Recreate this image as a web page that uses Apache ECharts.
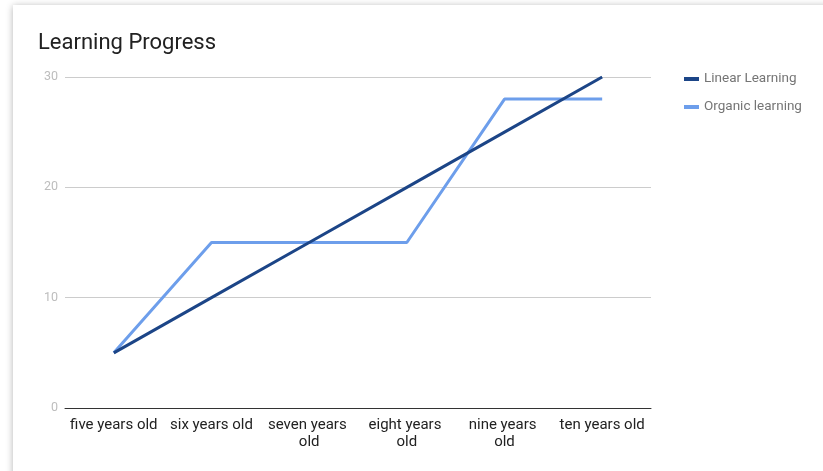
<!DOCTYPE html>
<html>
<head>
<meta charset="utf-8">
<script src="https://cdn.jsdelivr.net/npm/echarts@6/dist/echarts.min.js"></script>
<style>
  html, body { margin: 0; padding: 0; background: #fff; overflow: hidden; }
  #card { position: absolute; left: 13px; top: 5px; width: 830px; height: 480px; background: #fff;
          box-shadow: 0 1px 7px rgba(0,0,0,0.3); }
  #main { position: absolute; left: 0; top: 0; width: 823px; height: 471px; }
</style>
</head>
<body>
<div id="card"></div>
<div id="main"></div>
<script>
var categories = ['five years old', 'six years old', 'seven years old', 'eight years old', 'nine years old', 'ten years old'];
var linearLearning = [5, 10, 15, 20, 25, 30];
var organicLearning = [5, 15, 15, 15, 28, 28];

var myChart = echarts.init(document.getElementById('main'));

option = {
    backgroundColor: 'transparent',
    textStyle: { fontFamily: 'Roboto' },
    title: {
        text: 'Learning Progress',
        left: 33,
        top: 27,
        textStyle: { fontSize: 22, fontWeight: 'normal', color: '#212121', fontFamily: 'Roboto' }
    },
    legend: {
        orient: 'vertical',
        left: 679,
        top: 67,
        itemGap: 14,
        icon: 'rect',
        itemWidth: 15,
        itemHeight: 4,
        textStyle: { fontSize: 13.5, color: '#757575', fontFamily: 'Roboto' },
        data: ['Linear Learning', 'Organic learning']
    },
    grid: { left: 65, right: 172, top: 77, bottom: 63 },
    xAxis: {
        type: 'category',
        data: categories,
        boundaryGap: true,
        axisTick: { show: false },
        axisLine: { lineStyle: { color: '#333', width: 1 } },
        axisLabel: {
            color: '#222', fontSize: 15, margin: 9, interval: 0,
            width: 89, overflow: 'break', lineHeight: 17, fontFamily: 'Roboto'
        }
    },
    yAxis: {
        type: 'value',
        min: 0, max: 30, interval: 10,
        axisLine: { show: false },
        axisTick: { show: false },
        axisLabel: { color: '#bdbdbd', fontSize: 12.5, margin: 7, fontFamily: 'Roboto' },
        splitLine: { lineStyle: { color: '#cccccc' } }
    },
    series: [
        {
            name: 'Linear Learning',
            type: 'line',
            data: linearLearning,
            symbol: 'none',
            color: '#1c4587',
            lineStyle: { width: 3, color: '#1c4587' },
            z: 3
        },
        {
            name: 'Organic learning',
            type: 'line',
            data: organicLearning,
            symbol: 'none',
            color: '#6d9eeb',
            lineStyle: { width: 3, color: '#6d9eeb' },
            z: 2
        }
    ]
};

myChart.setOption(option);
</script>
</body>
</html>
